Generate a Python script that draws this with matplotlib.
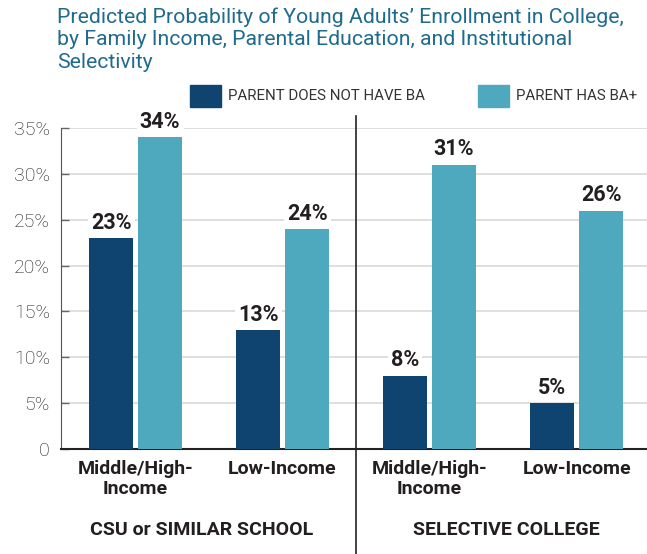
import matplotlib
matplotlib.use("Agg")
import matplotlib.pyplot as plt
from matplotlib.lines import Line2D
from matplotlib.patches import Rectangle

plt.rcParams['font.family'] = ['Roboto', 'DejaVu Sans']

# data
groups = ["CSU or SIMILAR SCHOOL", "SELECTIVE COLLEGE"]
categories = ["Middle/High-\nIncome", "Low-Income", "Middle/High-\nIncome", "Low-Income"]
no_ba = [23, 13, 8, 5]
has_ba = [34, 24, 31, 26]
series_names = ["PARENT DOES NOT HAVE BA", "PARENT HAS BA+"]
yticks = [0, 5, 10, 15, 20, 25, 30, 35]
ytick_labels = ["0", "5%", "10%", "15%", "20%", "25%", "30%", "35%"]

dark = "#0f4470"
light = "#4fa9be"
title_col = "#1f6b8e"
txt = "#231f20"

fig = plt.figure(figsize=(6.47, 5.54), dpi=100)
ax = fig.add_axes([0.0943, 0.1895, 0.9057, 0.5795])

x = list(range(len(categories)))
w = 0.3
off = 0.1667
b1 = ax.bar([i - off for i in x], no_ba, w, color=dark, zorder=3)
b2 = ax.bar([i + off for i in x], has_ba, w, color=light, zorder=3)

for bars, vals in ((b1, no_ba), (b2, has_ba)):
    for r, v in zip(bars, vals):
        ax.annotate(f"{v}%", (r.get_x() + r.get_width() / 2, v), xytext=(0, 3),
                    textcoords="offset points", ha="center", va="bottom",
                    fontsize=15.5, fontweight="bold", color=txt, zorder=4,
                    bbox=dict(boxstyle="square,pad=0.15", fc="white", ec="none"))

ax.set_xlim(-0.507, 3.479)
ax.set_ylim(0, 35)
ax.set_yticks(yticks)
ax.set_yticklabels(ytick_labels, fontweight="light")
ax.yaxis.grid(True, color="#d9d9d9", lw=1.2, zorder=0)
ax.set_axisbelow(True)
ax.tick_params(axis="y", direction="in", length=6, width=1, color="#666666",
               labelsize=14, labelcolor="#1a1a1a", pad=8)
ax.set_xticks(x)
ax.set_xticklabels(categories, fontsize=14, fontweight="bold", color=txt, linespacing=1.1)
ax.tick_params(axis="x", length=0, pad=8)
for s in ("top", "right"):
    ax.spines[s].set_visible(False)
ax.spines["left"].set_color("#555555")
ax.spines["bottom"].set_color("#222222")
ax.spines["bottom"].set_linewidth(1.5)

# divider between groups
X = lambda d: ax.transData.transform((d, 0))[0] / fig.bbox.width
xd = X(1.5)
fig.add_artist(Line2D([xd, xd], [0, 1 - 116 / 554], color="#222222", lw=1.2))

# group labels
for gx, g in zip((0.45, 2.52), groups):
    fig.text(X(gx), 1 - 530 / 554, g, ha="center", va="center",
             fontsize=14, fontweight="bold", color=txt)

# title
fig.text(57 / 647, 1 - 7 / 554, "Predicted Probability of Young Adults\u2019 Enrollment in College,\n"
         "by Family Income, Parental Education, and Institutional\nSelectivity",
         ha="left", va="top", fontsize=15.3, color=title_col, linespacing=1.26)

# legend
for lx, name, col in ((190, series_names[0], dark), (478, series_names[1], light)):
    fig.add_artist(Rectangle((lx / 647, 1 - 107 / 554), 31 / 647, 22 / 554,
                             transform=fig.transFigure, color=col))
    fig.text((lx + 38) / 647, 1 - 96 / 554, name, ha="left", va="center",
             fontsize=10.8, color="#333333")

fig.savefig("out.png", dpi=100)
